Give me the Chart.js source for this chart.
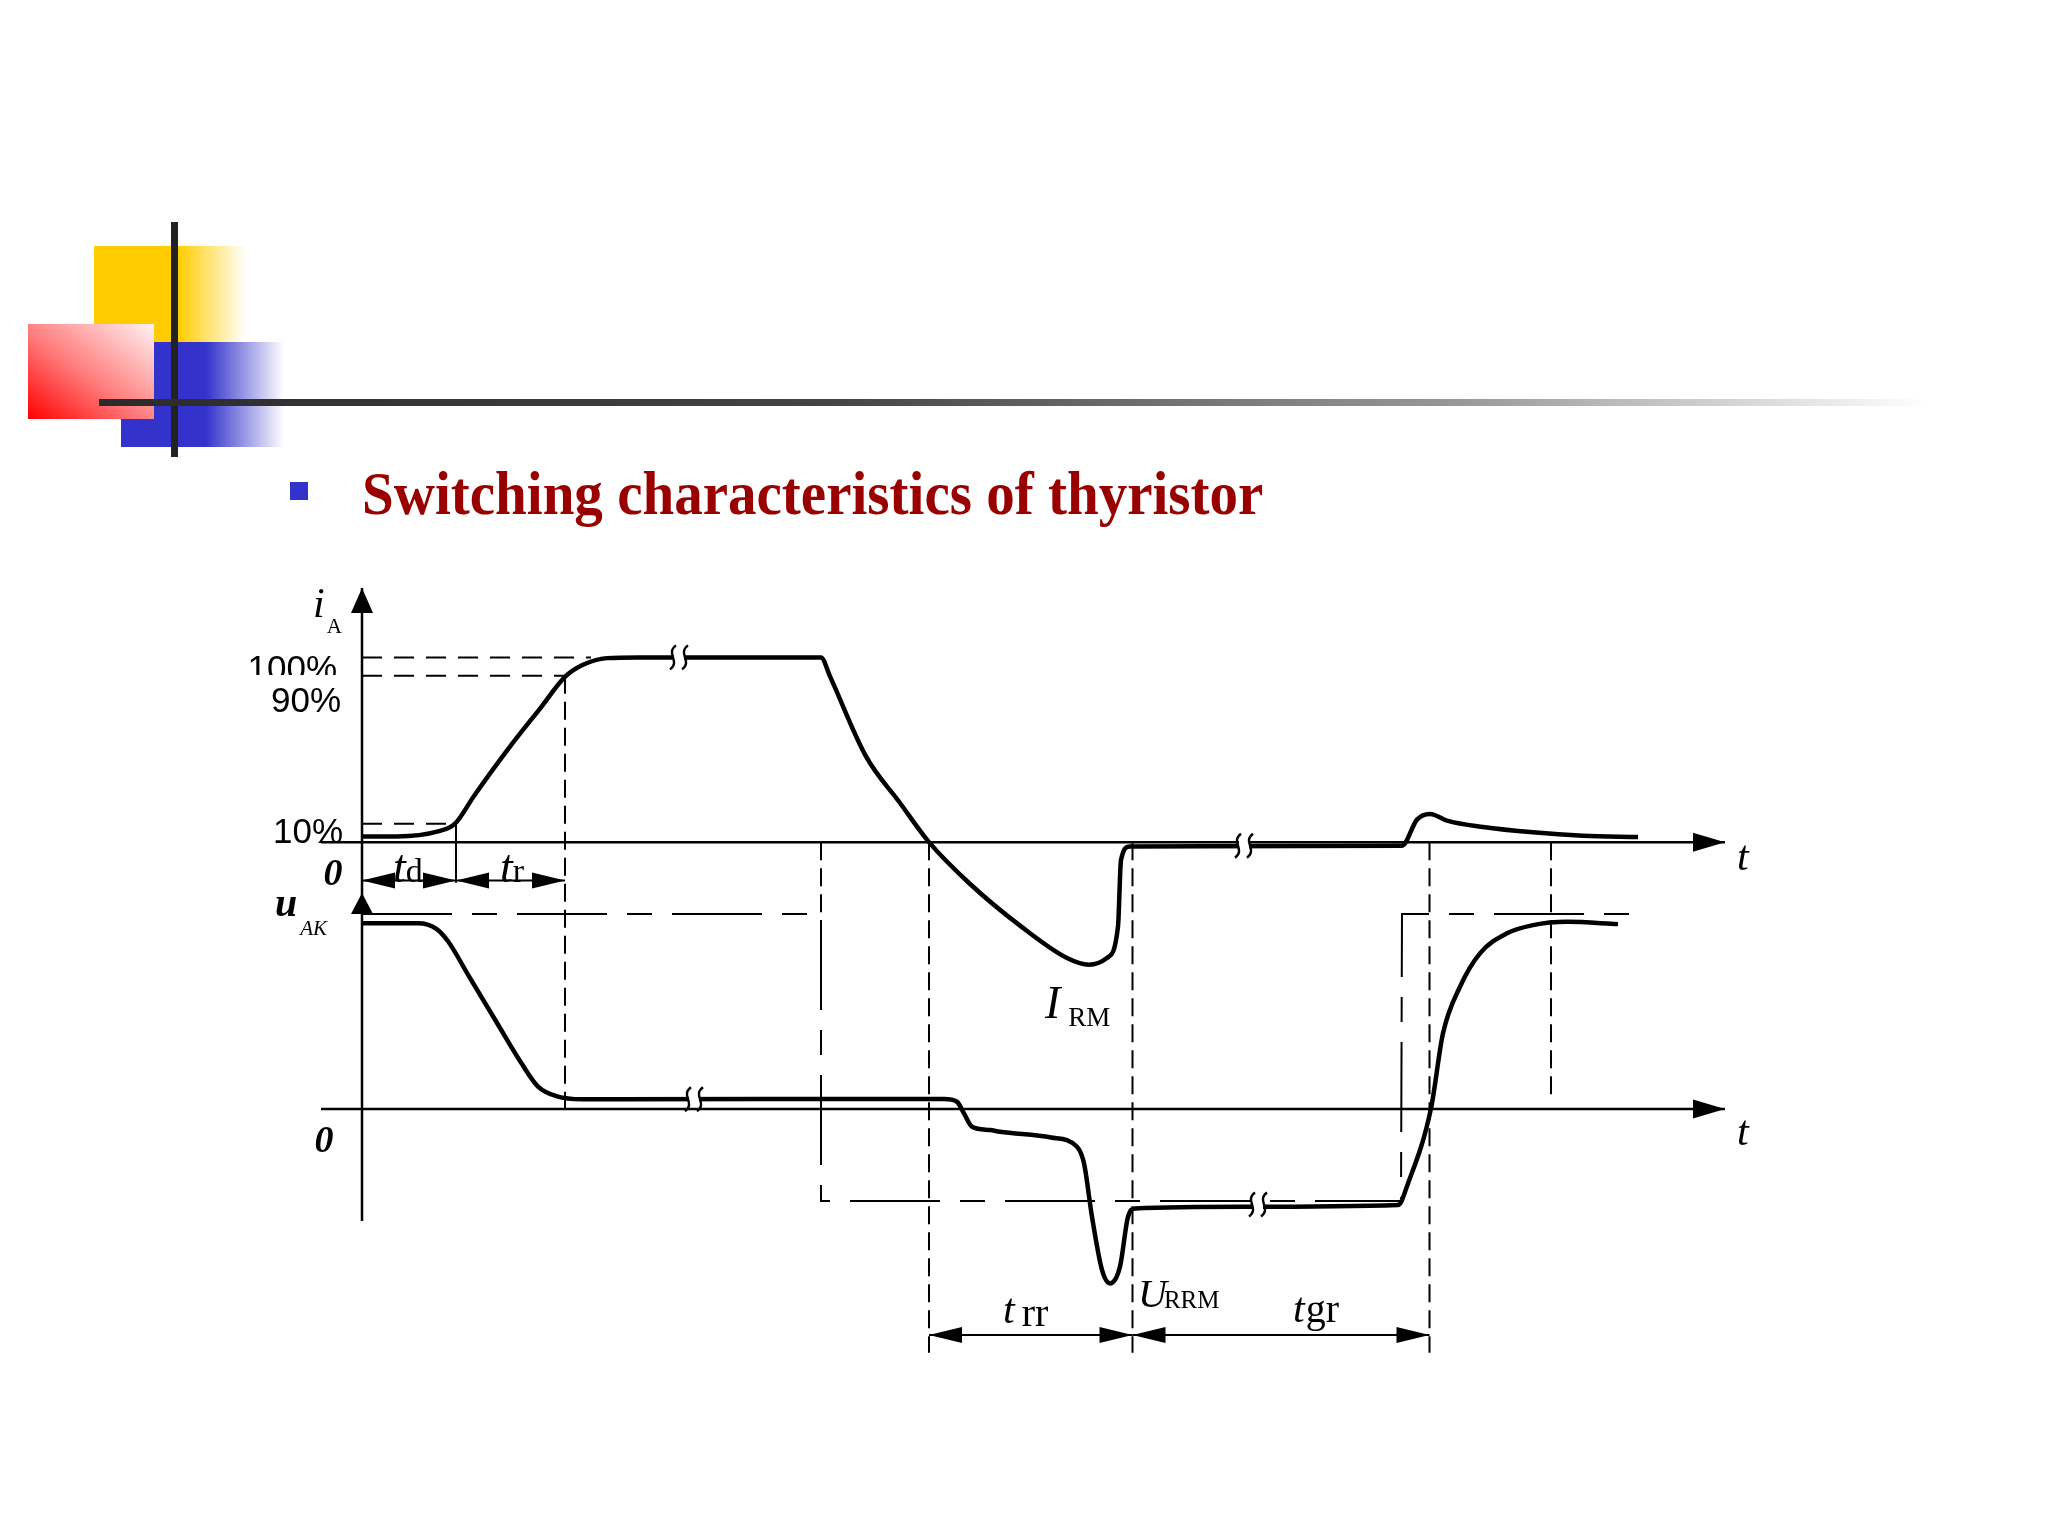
<!DOCTYPE html>
<html>
<head>
<meta charset="utf-8">
<title>Switching characteristics of thyristor</title>
<script src="https://cdn.jsdelivr.net/npm/chart.js@4.4.1/dist/chart.umd.min.js"></script>
<style>
  html, body { margin: 0; padding: 0; background: #fff; }
  body { width: 2048px; height: 1536px; position: relative; overflow: hidden; }
  .deco { position: absolute; }
  #yellow { left: 94px; top: 246px; width: 152px; height: 96px;
    background: linear-gradient(to right, #ffcc00 0%, #ffcc00 55%, #fff 100%); }
  #blue { left: 121px; top: 342px; width: 163px; height: 105px;
    background: linear-gradient(to right, #3333cc 0%, #3333cc 52%, #fff 100%); }
  #red { left: 28px; top: 324px; width: 126px; height: 95px;
    background: linear-gradient(to top right, #ff0000 0%, #ff7a7a 45%, #fff2f2 100%); }
  #vline { left: 171px; top: 222px; width: 7px; height: 235px; background: #222; }
  #hline { left: 99px; top: 399px; width: 1830px; height: 7px;
    background: linear-gradient(to right, #2b2b2b 0%, #444 40%, #9a9a9a 75%, #fff 100%); }
  #bullet { left: 290px; top: 482px; width: 18px; height: 18px; background: #3333cc; }
  #title { left: 362px; top: 462px; font: bold 62px "Liberation Serif", "Times New Roman", serif;
    color: #990000; line-height: 1; white-space: nowrap;
    transform: scaleX(0.92); transform-origin: left center; }
  canvas { position: absolute; left: 0; top: 0; }
</style>
</head>
<body>
<div class="deco" id="yellow"></div>
<div class="deco" id="blue"></div>
<div class="deco" id="red"></div>
<div class="deco" id="vline"></div>
<div class="deco" id="hline"></div>
<div class="deco" id="bullet"></div>
<div class="deco" id="title">Switching characteristics of thyristor</div>
<canvas id="myChart" width="2048" height="1536"></canvas>
<script>
// time in arbitrary units (0 = gate trigger), i_A in % of on-state current,
// u_AK in % of the forward blocking voltage
const iaTime  = [0, 3.5, 7.6, 9.3, 11.2, 14.7, 17.9, 20.3, 22.1, 24.5, 27.6, 45.9, 46.8, 50.4, 53.8,
                 56.7, 60.7, 65.9, 70.5, 72.7, 74.5, 75.6, 75.9, 76.8, 104.0, 105.5, 106.8, 108.5, 112.1,
                 117.1, 122.1, 127.6];
const iaValue = [3.1, 3.1, 5.8, 10, 25, 51, 73, 89.5, 96, 99.6, 100, 100, 89.7, 46.4, 21.2,
                 0, -22.1, -45.6, -62.7, -66.3, -62.7, -45.6, -9.6, -2.3, -1.9, 12.2, 15.3, 11.7, 8.2,
                 5.3, 3.5, 2.8];

const uakTime  = [0.1, 5.6, 7.4, 8.6, 10.7, 13.4, 16.0, 17.6, 19.5, 22.0, 58.2, 59.5, 60.2, 61.0, 62.8,
                  63.8, 68.9, 71.5, 72.2, 73.0, 74.0, 74.8, 75.8, 76.6, 77.3, 88.3, 103.6, 104.6, 106.9,
                  108.1, 109.8, 111.8, 114.5, 117.1, 120.5, 125.6];
const uakValue = [95.2, 95.2, 92.5, 86, 68, 45, 23, 11.5, 6.5, 5.0, 5.1, 3.7, -2.3, -9.1, -10.8,
                  -11.7, -14.6, -19.4, -27.9, -55.3, -82.6, -89.5, -80.9, -55.3, -51.0, -50.2, -49.3, -38.2, 0.3,
                  38.8, 62.7, 79.8, 90.1, 94.3, 96.0, 94.8];

// applied (reference) voltage: forward, reverse U_RRM, forward again
const uRefTime  = [0, 45.9, 45.9, 103.9, 104.0, 128.4];
const uRefValue = [100, 100, -47.2, -47.2, 100, 100];

// current levels marked on the i_A axis
const iaLevels   = [100, 90, 10];
const iaLevelEnd = [22.9, 20.3, 9.4];

// instants marked by the dashed lines
const markNames = ['td', 'tr', 'off', 'zero', 'rr', 'step', 'gr', 'settle'];
const markTimes = [9.4, 20.3, 45.9, 56.7, 77.05, 104.0, 106.75, 118.9];

// broken-axis marks (time, value)
const iaBreaks  = [[31.7, 100], [88.2, -1.9]];
const uakBreaks = [[33.2, 5.0], [89.6, -49]];

const T = {};
markNames.forEach((n, i) => { T[n] = markTimes[i]; });

const pts = (xs, ys) => xs.map((x, i) => ({ x: x, y: ys[i] }));

const SERIF = '"Liberation Serif", "Times New Roman", serif';
const SANS = '"Liberation Sans", Arial, sans-serif';

function seg(ctx, x1, y1, x2, y2) {
    ctx.beginPath();
    ctx.moveTo(x1, y1);
    ctx.lineTo(x2, y2);
    ctx.stroke();
}

function head(ctx, tx, ty, dx, dy, len, half) {
    // filled arrow head with its tip at (tx, ty), pointing along (dx, dy)
    ctx.beginPath();
    ctx.moveTo(tx, ty);
    ctx.lineTo(tx - dx * len - dy * half, ty - dy * len + dx * half);
    ctx.lineTo(tx - dx * len + dy * half, ty - dy * len - dx * half);
    ctx.closePath();
    ctx.fill();
}

function dimension(ctx, x1, x2, y) {
    seg(ctx, x1, y, x2, y);
    head(ctx, x1, y, -1, 0, 33, 8);
    head(ctx, x2, y, 1, 0, 33, 8);
}

function label(ctx, px, py, main, mainFont, sub, subFont, gap, drop) {
    ctx.font = mainFont;
    ctx.fillText(main, px, py);
    if (!sub) return;
    const w = ctx.measureText(main).width;
    ctx.font = subFont;
    ctx.fillText(sub, px + w + gap, py + drop);
}

function breakMark(ctx, cx, cy, h) {
    ctx.save();
    ctx.fillStyle = '#fff';
    ctx.fillRect(cx - 5, cy - h * 0.22, 10, h * 0.44);
    ctx.lineWidth = 2.4;
    ctx.setLineDash([]);
    [-6, 6].forEach(d => {
        ctx.beginPath();
        ctx.moveTo(cx + d + 3, cy - h / 2);
        ctx.bezierCurveTo(cx + d - 8, cy - h / 6, cx + d + 8, cy + h / 6, cx + d - 3, cy + h / 2);
        ctx.stroke();
    });
    ctx.restore();
}

const sketch = {
    id: 'sketch',
    beforeDatasetsDraw(chart) {
        const ctx = chart.ctx;
        const X = v => chart.scales.x.getPixelForValue(v);
        const YI = v => chart.scales.yI.getPixelForValue(v);
        const YU = v => chart.scales.yU.getPixelForValue(v);
        ctx.save();
        ctx.strokeStyle = '#000';
        ctx.fillStyle = '#000';

        // dashed guide lines through both panels
        ctx.lineWidth = 2;
        ctx.setLineDash([18, 8]);
        seg(ctx, X(T.tr), YI(90), X(T.tr), YU(0));
        seg(ctx, X(T.off), YI(0), X(T.off), YU(100));
        seg(ctx, X(T.zero), YI(0), X(T.zero), YU(-125));
        seg(ctx, X(T.rr), YI(0), X(T.rr), YU(-125));
        seg(ctx, X(T.gr), YI(0), X(T.gr), YU(-125));
        seg(ctx, X(T.settle), YI(0), X(T.settle), YU(6));
        ctx.setLineDash([]);
        seg(ctx, X(T.td), YI(10), X(T.td), YI(-22));

        // axes
        ctx.lineWidth = 2.5;
        seg(ctx, X(0), YI(137.6), X(0), YU(-57.5));
        head(ctx, X(0), YI(137.6), 0, -1, 25, 11);
        head(ctx, X(0), YU(110.7), 0, -1, 21, 11);
        seg(ctx, X(-4.1), YI(0), X(136.3), YI(0));
        head(ctx, X(136.3), YI(0), 1, 0, 32, 9.5);
        seg(ctx, X(-4.1), YU(0), X(136.3), YU(0));
        head(ctx, X(136.3), YU(0), 1, 0, 32, 9.5);

        // time intervals
        ctx.lineWidth = 2;
        dimension(ctx, X(0), X(T.td), YI(-20.7));
        dimension(ctx, X(T.td), X(T.tr), YI(-20.7));
        dimension(ctx, X(T.zero), X(T.rr), YU(-116));
        dimension(ctx, X(T.rr), X(T.gr), YU(-116));
        ctx.restore();
    },
    afterDatasetsDraw(chart) {
        const ctx = chart.ctx;
        const X = v => chart.scales.x.getPixelForValue(v);
        const YI = v => chart.scales.yI.getPixelForValue(v);
        const YU = v => chart.scales.yU.getPixelForValue(v);
        ctx.save();
        ctx.strokeStyle = '#000';
        ctx.fillStyle = '#000';

        iaBreaks.forEach(b => breakMark(ctx, X(b[0]), YI(b[1]), 24));
        uakBreaks.forEach(b => breakMark(ctx, X(b[0]), YU(b[1]), 24));

        ctx.textBaseline = 'alphabetic';

        // percentage labels (100 % is cut by the dashed line underneath)
        ctx.textAlign = 'right';
        ctx.font = '35px ' + SANS;
        const levelX = [-2.5, -2.1, -1.9];
        const levelY = [87.8, 70.5, -0.4];
        iaLevels.forEach((lv, i) => {
            ctx.save();
            if (i === 0) {
                ctx.beginPath();
                ctx.rect(0, 0, X(0), YI(90.5));
                ctx.clip();
            }
            ctx.fillText(lv + '%', X(levelX[i]), YI(levelY[i]));
            ctx.restore();
        });

        ctx.textAlign = 'center';
        ctx.font = 'italic bold 38px ' + SERIF;
        ctx.fillText('0', X(-2.9), YI(-23.1));
        ctx.fillText('0', X(-3.8), YU(-22.2));

        ctx.textAlign = 'left';
        ctx.font = 'italic 42px ' + SERIF;
        ctx.fillText('t', X(137.5), YI(-15.2));
        ctx.fillText('t', X(137.5), YU(-18.5));

        label(ctx, X(-4.9), YI(121.9), 'i', 'italic 42px ' + SERIF, 'A', '21px ' + SERIF, 2, 16);
        label(ctx, X(-8.7), YU(99), 'u', 'italic bold 40px ' + SERIF, 'AK', 'italic 21px ' + SERIF, 3, 19);
        label(ctx, X(3.1), YI(-21.5), 't', 'italic 46px ' + SERIF, 'd', '34px ' + SERIF, 0, 0);
        label(ctx, X(13.8), YI(-21.5), 't', 'italic 46px ' + SERIF, 'r', '34px ' + SERIF, 0, 0);
        label(ctx, X(68.3), YU(46.6), 'I', 'italic 46px ' + SERIF, 'RM', '27px ' + SERIF, 8, 8);
        label(ctx, X(64.1), YU(-109.9), 't', 'italic 42px ' + SERIF, 'rr', '40px ' + SERIF, 7, 3);
        label(ctx, X(77.6), YU(-101.6), 'U', 'italic 40px ' + SERIF, 'RRM', '25px ' + SERIF, -3, 1);
        label(ctx, X(93.1), YU(-109.3), 't', 'italic 42px ' + SERIF, 'gr', '40px ' + SERIF, 1, 0);
        ctx.restore();
    }
};

const curve = (name, xs, ys, axis, extra) => Object.assign({
    label: name,
    data: pts(xs, ys),
    yAxisID: axis,
    showLine: true,
    borderColor: '#000',
    backgroundColor: '#000',
    borderWidth: 4.5,
    pointRadius: 0,
    fill: false,
    clip: false,
    cubicInterpolationMode: 'monotone'
}, extra || {});

const datasets = [
    curve('i_A', iaTime, iaValue, 'yI'),
    curve('u_AK', uakTime, uakValue, 'yU'),
    curve('u ref', uRefTime, uRefValue, 'yU',
        { borderWidth: 2, borderDash: [90, 20, 25, 20], cubicInterpolationMode: 'default', tension: 0 })
];
iaLevels.forEach((lv, i) => {
    datasets.push(curve(lv + '%', [0, iaLevelEnd[i]], [lv, lv], 'yI',
        { borderWidth: 2, borderDash: [20, 12], cubicInterpolationMode: 'default', tension: 0 }));
});

var ctx = document.getElementById('myChart').getContext('2d');
var myChart = new Chart(ctx, {
    type: 'scatter',
    data: { datasets: datasets },
    options: {
        responsive: false,
        animation: false,
        devicePixelRatio: 1,
        layout: { padding: { left: 362, right: 286, top: 565, bottom: 158 } },
        plugins: {
            legend: { display: false },
            tooltip: { enabled: false }
        },
        scales: {
            x: { type: 'linear', min: 0, max: 140, display: false },
            yI: { type: 'linear', min: -290, max: 150, display: false },
            yU: { type: 'linear', min: -138, max: 279, display: false }
        }
    },
    plugins: [sketch]
});
</script>
</body>
</html>
